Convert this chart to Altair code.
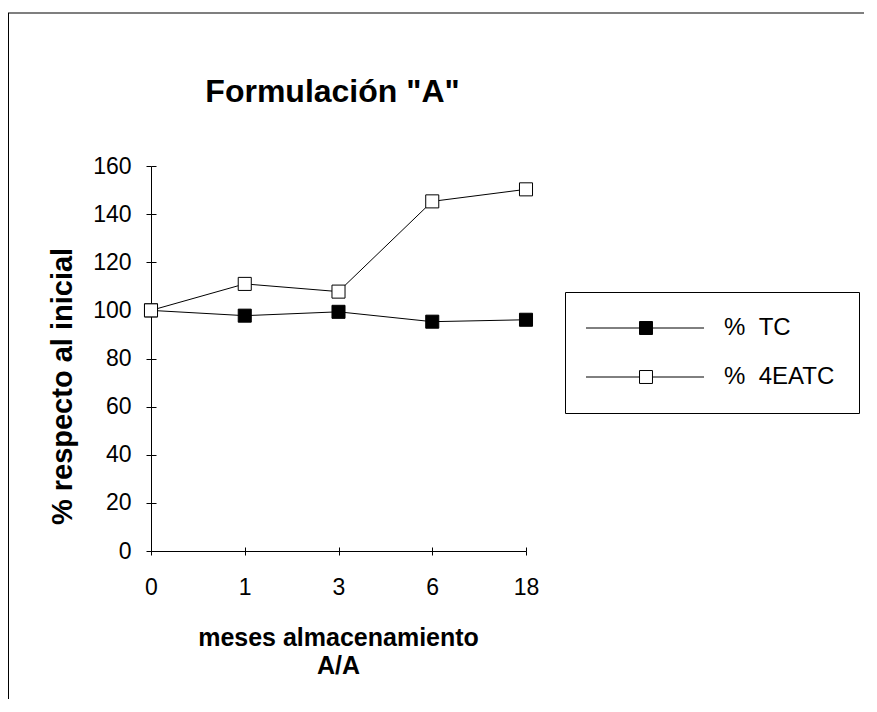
import altair as alt
import pandas as pd

meses = ["0", "1", "3", "6", "18"]
series = ["% TC", "% 4EATC"]
tc = [100, 97.8, 99.4, 95.3, 96.1]
eatc = [100, 111.0, 107.8, 145.3, 150.3]
y_ticks = [0, 20, 40, 60, 80, 100, 120, 140, 160]

rows = []
for s, vals in zip(series, [tc, eatc]):
    for m, v in zip(meses, vals):
        rows.append({"mes": m, "serie": s, "valor": v})
df = pd.DataFrame(rows)

FONT = "Liberation Sans, Arial, sans-serif"
W, H = 375, 385

x_scale = alt.Scale(type="point", padding=0, domain=meses)
y_scale = alt.Scale(domain=[0, 160], nice=False, zero=True)

x_axis = alt.Axis(
    orient="bottom", title=["meses almacenamiento", "A/A"], labelAngle=0,
    labelFontSize=23, labelFont=FONT, labelColor="black", labelPadding=21,
    tickSize=4, tickColor="black", domainColor="black", domainWidth=1,
    titleFont=FONT, titleFontSize=25, titleFontWeight="bold", titleColor="black",
    titleX=187, titleY=94, titleAlign="center", titleBaseline="alphabetic",
    titleLineHeight=28, grid=False,
)
y_axis = alt.Axis(
    orient="left", title="% respecto al inicial", values=y_ticks,
    labelFontSize=23, labelFont=FONT, labelColor="black", labelPadding=15,
    tickSize=5, tickColor="black", domainColor="black", domainWidth=1,
    titleFont=FONT, titleFontSize=29, titleFontWeight="bold", titleColor="black",
    titleX=-80, titleY=220, titleAngle=270, titleAlign="center",
    titleBaseline="alphabetic", grid=False,
)

PATH = "M-2.5,0H6.42M8.58,0H17.17M6.42,-1.08H8.58V1.08H6.42Z"

lines = alt.Chart(df).mark_line(color="black", strokeWidth=1).encode(
    x=alt.X("mes:O", sort=meses, scale=x_scale, axis=None),
    y=alt.Y("valor:Q", scale=y_scale, axis=None),
    detail="serie:N",
)

points = alt.Chart(df).mark_square(size=170, stroke="black", strokeWidth=1, opacity=1).encode(
    x=alt.X("mes:O", sort=meses, scale=x_scale, axis=x_axis),
    y=alt.Y("valor:Q", scale=y_scale, axis=y_axis),
    fill=alt.Fill(
        "serie:N",
        scale=alt.Scale(domain=series, range=["black", "white"]),
        legend=alt.Legend(
            title=None, orient="none", legendX=414, legendY=126,
            strokeColor="black", fillColor="white", padding=24,
            symbolType=PATH, symbolSize=144, symbolStrokeColor="black",
            symbolStrokeWidth=1, labelFont=FONT, labelFontSize=24,
            labelColor="black", labelOffset=111, rowPadding=25,
            labelExpr="replace(datum.label, ' ', '\u00a0\u00a0')",
        ),
    ),
    order=alt.Order("serie:N", sort="descending"),
)

cross_ticks = alt.Chart(df).mark_point(opacity=0).encode(
    x=alt.X("mes:O", sort=meses, scale=x_scale,
            axis=alt.Axis(orient="bottom", offset=-4, labels=False, domain=False,
                          title=None, tickSize=4, tickColor="black", grid=False)),
    y=alt.Y("valor:Q", scale=y_scale,
            axis=alt.Axis(orient="left", offset=-5, labels=False, domain=False,
                          title=None, values=y_ticks, tickSize=5, tickColor="black",
                          grid=False)),
)

frame_src = pd.DataFrame({"k": [0]})
top_line = alt.Chart(frame_src).mark_rule(color="black", strokeWidth=1.2).encode(
    x=alt.value(-143), x2=alt.value(726), y=alt.value(-153)
)
left_line = alt.Chart(frame_src).mark_rule(color="black", strokeWidth=1).encode(
    x=alt.value(-142.5), y=alt.value(-153), y2=alt.value(560)
)

chart = alt.layer(top_line, left_line, lines, points, cross_ticks).resolve_axis(
    x="independent", y="independent"
).properties(
    width=W, height=H,
    autosize=alt.AutoSizeParams(type="none"),
    padding={"left": 143, "top": 158, "right": 338, "bottom": 148},
    title=alt.TitleParams(
        'Formulación "A"', font=FONT, fontSize=32, fontWeight="bold",
        color="black", anchor="middle", dx=-6, offset=-97, frame="group",
    ),
    background="white",
).configure_view(stroke="transparent")

chart.save("out.html", embed_options={"renderer": "svg", "actions": False})
